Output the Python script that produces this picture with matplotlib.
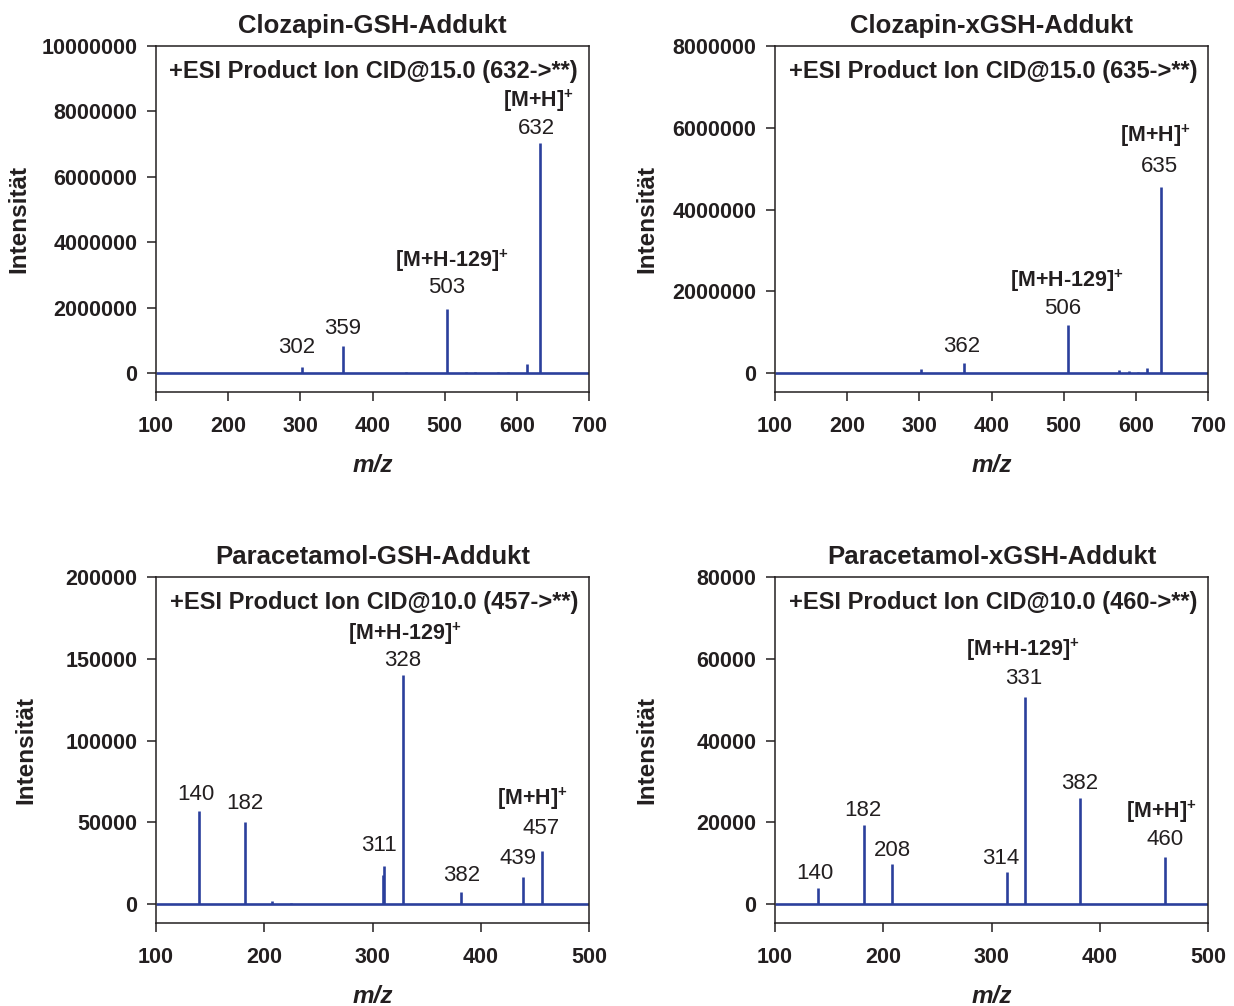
import numpy as np
import matplotlib
matplotlib.use("Agg")
import matplotlib.pyplot as plt
from matplotlib.ticker import FuncFormatter

plt.rcParams["font.family"] = ["Liberation Sans", "DejaVu Sans"]
plt.rcParams["mathtext.fontset"] = "custom"
plt.rcParams["mathtext.rm"] = "Liberation Sans"
plt.rcParams["mathtext.bf"] = "Liberation Sans:bold"

# ── data ──
titles = ["Clozapin-GSH-Addukt", "Clozapin-xGSH-Addukt",
          "Paracetamol-GSH-Addukt", "Paracetamol-xGSH-Addukt"]
headers = ["+ESI Product Ion CID@15.0 (632->**)",
           "+ESI Product Ion CID@15.0 (635->**)",
           "+ESI Product Ion CID@10.0 (457->**)",
           "+ESI Product Ion CID@10.0 (460->**)"]

clz_mz = [302, 359, 446, 503, 530, 542, 574, 588, 614, 632]
clz_int = [190000, 840000, 30000, 1960000, 30000, 30000, 40000, 30000, 270000, 7030000]

xclz_mz = [302, 362, 506, 577, 590, 603, 616, 635]
xclz_int = [105000, 240000, 1170000, 66000, 40000, 20000, 130000, 4550000]

para_mz = [140, 182, 207, 225, 310, 311, 328, 382, 439, 457]
para_int = [56900, 50200, 1650, 500, 17700, 23400, 140000, 7150, 16500, 32400]

xpara_mz = [140, 182, 208, 314, 331, 382, 460]
xpara_int = [3840, 19300, 9860, 7750, 50600, 25900, 11600]

# peak labels: (m/z, text, bold?, dx px, dy px)
clz_labels = [(302, "302", False, -5, 19), (359, "359", False, 0, 17),
              (503, "503", False, 0, 21), (503, r"[M+H-129]$^\mathbf{+}$", True, 5, 48),
              (632, "632", False, -3, 15), (632, r"[M+H]$^\mathbf{+}$", True, -2, 42)]
xclz_labels = [(362, "362", False, -2, 17), (506, "506", False, -5, 17),
               (506, r"[M+H-129]$^\mathbf{+}$", True, -1, 44),
               (635, "635", False, -2, 21), (635, r"[M+H]$^\mathbf{+}$", True, -6, 51)]
para_labels = [(140, "140", False, -3, 16), (182, "182", False, 0, 18),
               (311, "311", False, -5, 20), (328, "328", False, 0, 15),
               (328, r"[M+H-129]$^\mathbf{+}$", True, 2, 41),
               (382, "382", False, 0, 17), (439, "439", False, -5, 19),
               (457, "457", False, -1, 23), (457, r"[M+H]$^\mathbf{+}$", True, -10, 52)]
xpara_labels = [(140, "140", False, -3, 15), (182, "182", False, -1, 15),
                (208, "208", False, 1, 13), (314, "314", False, -6, 14),
                (331, "331", False, -1, 19), (331, r"[M+H-129]$^\mathbf{+}$", True, -2, 47),
                (382, "382", False, -1, 15), (460, "460", False, 0, 17),
                (460, r"[M+H]$^\mathbf{+}$", True, -3, 45)]

panels = [
    (clz_mz, clz_int, clz_labels, (100, 700), (-580000, 10000000), 2000000),
    (xclz_mz, xclz_int, xclz_labels, (100, 700), (-464000, 8000000), 2000000),
    (para_mz, para_int, para_labels, (100, 500), (-11600, 200000), 50000),
    (xpara_mz, xpara_int, xpara_labels, (100, 500), (-4640, 80000), 20000),
]

BLUE = "#2b3f9c"
INK = "#231f20"

fig = plt.figure(figsize=(12.34, 10.06), dpi=100)
W, H = 1234, 1006
boxes = [(156, 46), (775, 46), (156, 577), (775, 577)]
ylab_x = [-0.289, -0.270, -0.275, -0.270]
aw, ah = 433, 346

for i, (mz, inten, labels, xl, yl, ystep) in enumerate(panels):
    x0, y0 = boxes[i]
    ax = fig.add_axes([x0 / W, 1 - (y0 + ah) / H, aw / W, ah / H])
    ax.plot(xl, [0, 0], color=BLUE, lw=1.9, solid_capstyle="butt")
    ax.vlines(mz, 0, inten, color=BLUE, lw=1.9)
    ax.set_xlim(xl)
    ax.set_ylim(yl)
    ax.set_xticks(np.arange(xl[0], xl[1] + 1, 100))
    ax.set_yticks(np.arange(0, yl[1] + 1, ystep))
    ax.yaxis.set_major_formatter(FuncFormatter(lambda v, p: f"{v:.0f}"))
    ax.tick_params(direction="out", length=6.5, width=1.1, color=INK,
                   labelsize=15.5, labelcolor=INK)
    ax.tick_params(axis="x", pad=11)
    ax.tick_params(axis="y", pad=7)
    for lab in ax.get_xticklabels() + ax.get_yticklabels():
        lab.set_fontweight("bold")
    for sp in ax.spines.values():
        sp.set_linewidth(1.1)
        sp.set_color(INK)
    ax.set_title(titles[i], fontsize=18.5, fontweight="bold", color=INK, pad=9)
    ax.set_xlabel("m/z", fontsize=17.5, fontweight="bold", style="italic",
                  color=INK)
    ax.xaxis.set_label_coords(0.5, -0.178)
    ax.set_ylabel("Intensität", fontsize=17.5, fontweight="bold", color=INK)
    ax.yaxis.set_label_coords(ylab_x[i], 0.5)
    ax.text(0.503, 0.925, headers[i], transform=ax.transAxes, ha="center",
            va="center", fontsize=17, fontweight="bold", color=INK)
    peak = dict(zip(mz, inten))
    for m, txt, bold, dx, dy in labels:
        ax.annotate(txt, xy=(m, peak[m]), xytext=(dx, dy),
                    textcoords="offset pixels", ha="center", va="center",
                    fontsize=16 if not bold else 15.5,
                    fontweight="bold" if bold else "normal", color=INK)

fig.savefig("out.png", dpi=100)
